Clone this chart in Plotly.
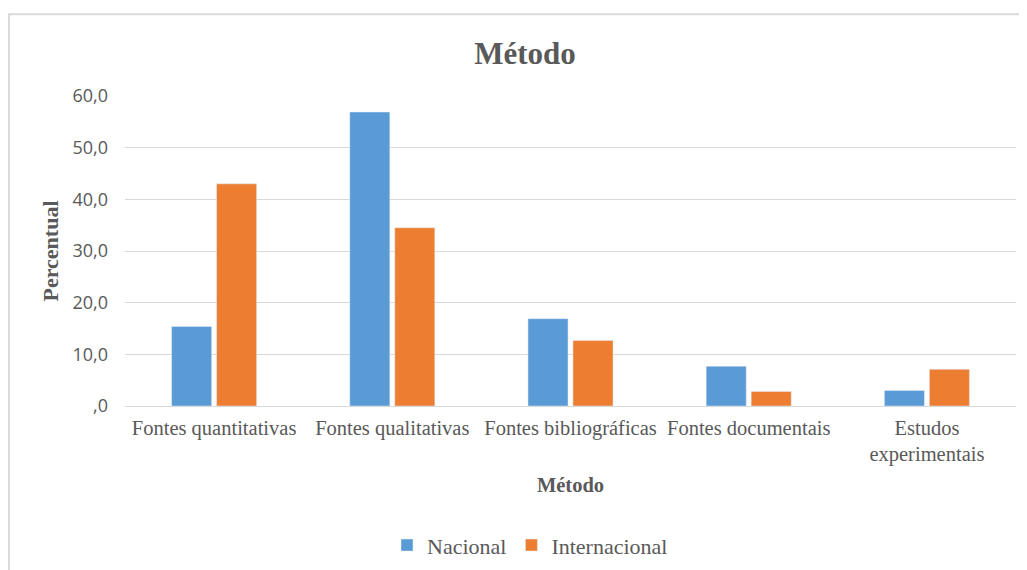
import plotly.graph_objects as go

categories = ["Fontes quantitativas", "Fontes qualitativas", "Fontes bibliográficas",
              "Fontes documentais", "Estudos<br>experimentais"]
nacional = [15.4, 56.9, 16.9, 7.7, 3.0]
internacional = [43.0, 34.5, 12.7, 2.8, 7.1]
y_tickvals = [0, 10, 20, 30, 40, 50, 60]
y_ticktext = [",0", "10,0", "20,0", "30,0", "40,0", "50,0", "60,0"]

OFF = 8  # page body margin
W, H = 1027 - OFF, 570 - OFF
L, R, T, B = 125 - OFF, 11, 96 - OFF, 163.5
pw = W - L - R
ph = H - T - B

def px_x(x):
    return (x - OFF - L) / pw

def px_y(y):
    return (H - B - (y - OFF)) / ph

serif = "Liberation Serif, Times New Roman, serif"
sans = "Open Sans, Noto Sans, sans-serif"
gray = "#595959"

fig = go.Figure()
fig.add_trace(go.Bar(x=categories, y=nacional, name="Nacional", marker_color="#5B9BD5"))
fig.add_trace(go.Bar(x=categories, y=internacional, name="Internacional", marker_color="#ED7D31"))

fig.update_layout(
    width=W, height=H,
    margin=dict(l=L, r=R, t=T, b=B, autoexpand=False),
    paper_bgcolor="white", plot_bgcolor="white",
    font=dict(family=serif, color=gray),
    barmode="group", bargap=0.495, bargroupgap=0.11,
    title=dict(text="<b>Método</b>", x=px_x(525), xref="paper", xanchor="center",
               y=1 - (53 - OFF) / H, yref="container", yanchor="middle",
               font=dict(family=serif, size=31, color=gray)),
    legend=dict(orientation="h", x=px_x(530), xanchor="center", y=px_y(546), yanchor="middle",
                font=dict(family=serif, size=22, color=gray), itemwidth=30,
                traceorder="normal"),
    showlegend=True,
)
fig.update_yaxes(range=[0, 60], tickvals=y_tickvals, ticktext=y_ticktext,
                 showgrid=True, gridcolor="#D9D9D9", gridwidth=1, zeroline=False,
                 showline=False, ticks="", ticklabelstandoff=16,
                 tickfont=dict(family=sans, size=18, color=gray),
                 title=dict(text="<b>Percentual</b>", standoff=7,
                            font=dict(family=serif, size=22, color=gray)),
                 automargin=False, fixedrange=True)
fig.update_xaxes(showline=True, linecolor="#D9D9D9", linewidth=1, ticks="",
                 tickangle=0, ticklabelstandoff=3,
                 tickfont=dict(family=serif, size=20.5, color=gray),
                 title=dict(text="<b>Método</b>", standoff=12,
                            font=dict(family=serif, size=20.5, color=gray)),
                 automargin=False, fixedrange=True)

fig.add_shape(type="rect", xref="paper", yref="paper",
              x0=px_x(9), x1=px_x(1035), y0=px_y(580), y1=px_y(14),
              line=dict(color="#D9D9D9", width=2), fillcolor="rgba(0,0,0,0)", layer="below")

fig.write_html("out.html")
